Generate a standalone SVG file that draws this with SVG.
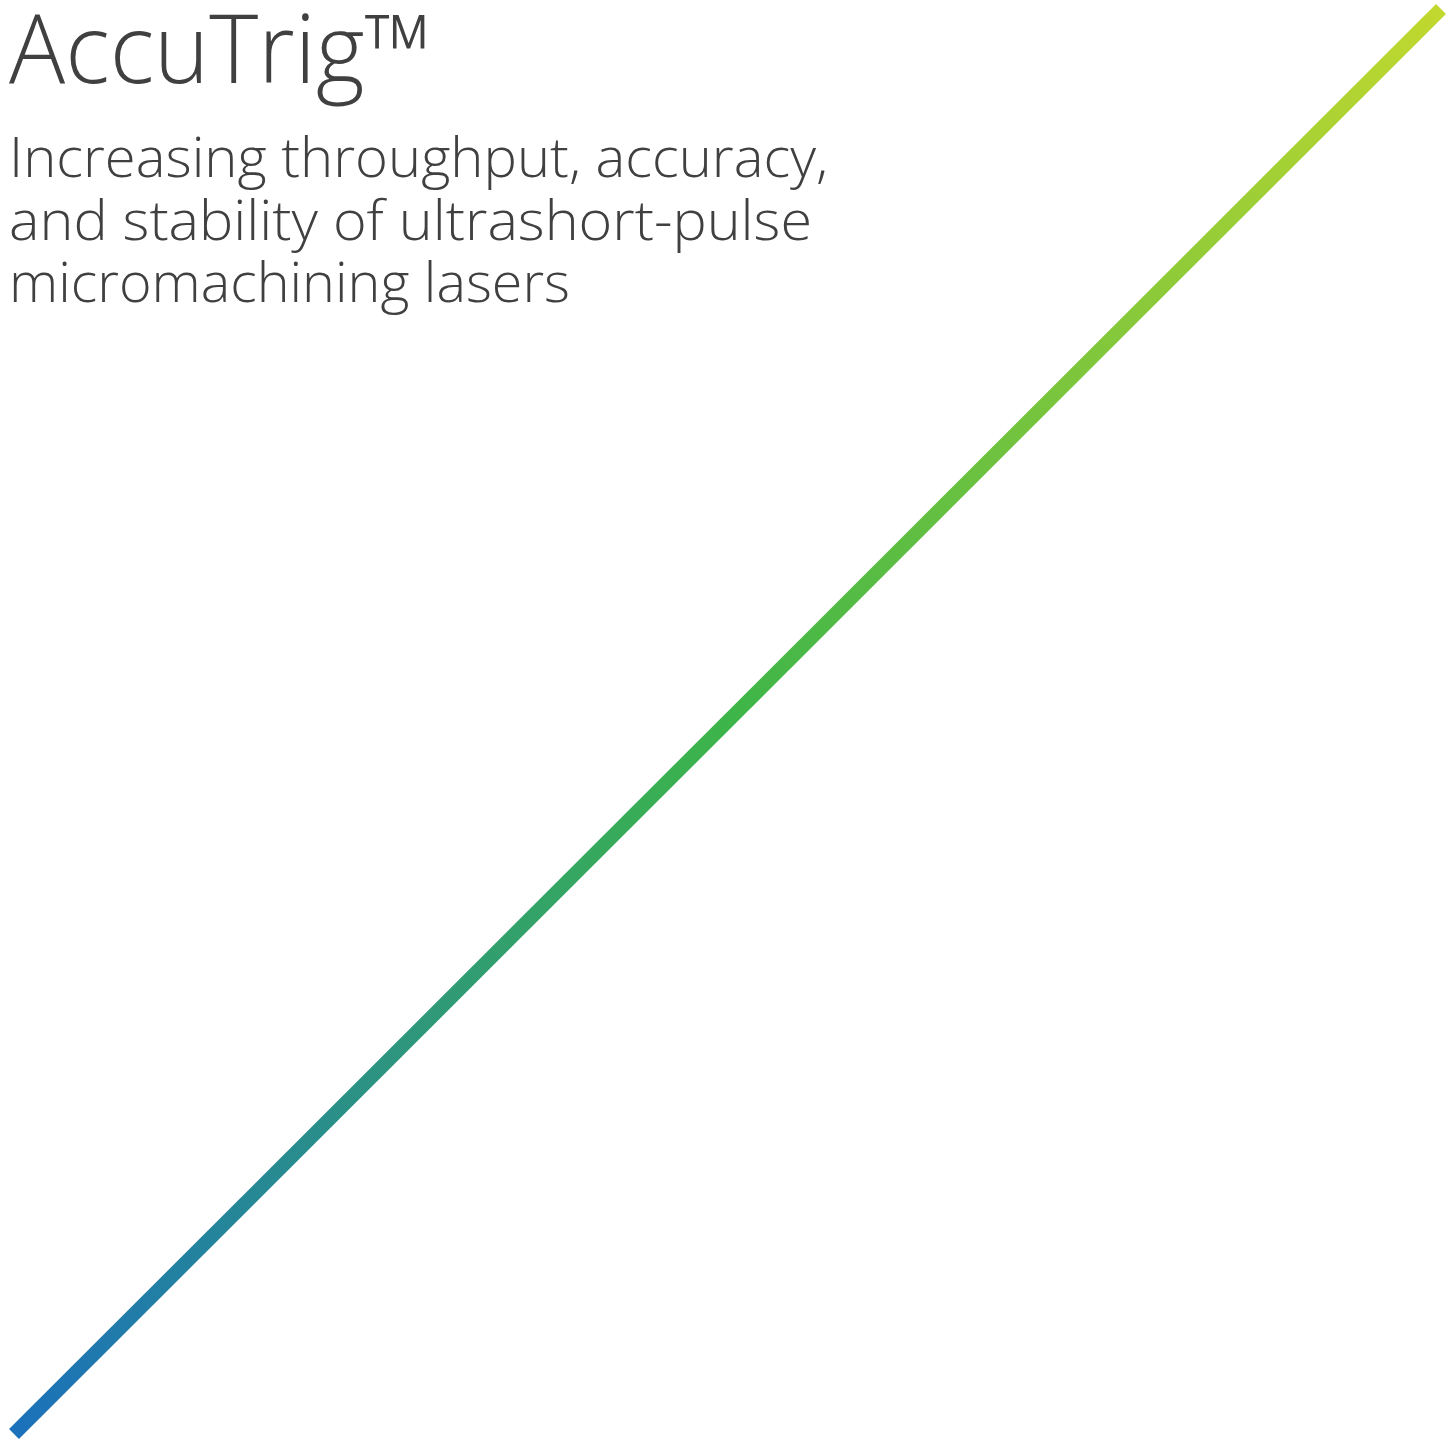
<svg xmlns="http://www.w3.org/2000/svg" width="1453" height="1440" viewBox="0 0 1453 1440">
<defs>
<style>
.t{font-family:"Open Sans","Noto Sans",sans-serif;font-weight:300;fill:#404041}
.title{font-size:95px}
.sub{font-size:56px}
</style>
<linearGradient id="g" gradientUnits="userSpaceOnUse" x1="14" y1="1434" x2="1441" y2="9">
<stop offset="0" stop-color="#1b71bb"/>
<stop offset="0.5" stop-color="#3db549"/>
<stop offset="1" stop-color="#c1d82f"/>
</linearGradient>
</defs>
<rect width="1453" height="1440" fill="#fff"/>
<g id="title">
<text class="t title" x="9" y="83" textLength="423" lengthAdjust="spacingAndGlyphs">AccuTrig™</text>
</g>
<g id="subtitle">
<text class="t sub" x="9" y="177" textLength="819" lengthAdjust="spacingAndGlyphs">Increasing throughput, accuracy,</text>
<text class="t sub" x="9" y="240" textLength="803" lengthAdjust="spacingAndGlyphs">and stability of ultrashort-pulse</text>
<text class="t sub" x="9" y="302" textLength="561" lengthAdjust="spacingAndGlyphs">micromachining lasers</text>
</g>
<g id="connectors">
<line x1="14" y1="1434" x2="1441" y2="9" stroke="url(#g)" stroke-width="14"/>
</g>
</svg>
